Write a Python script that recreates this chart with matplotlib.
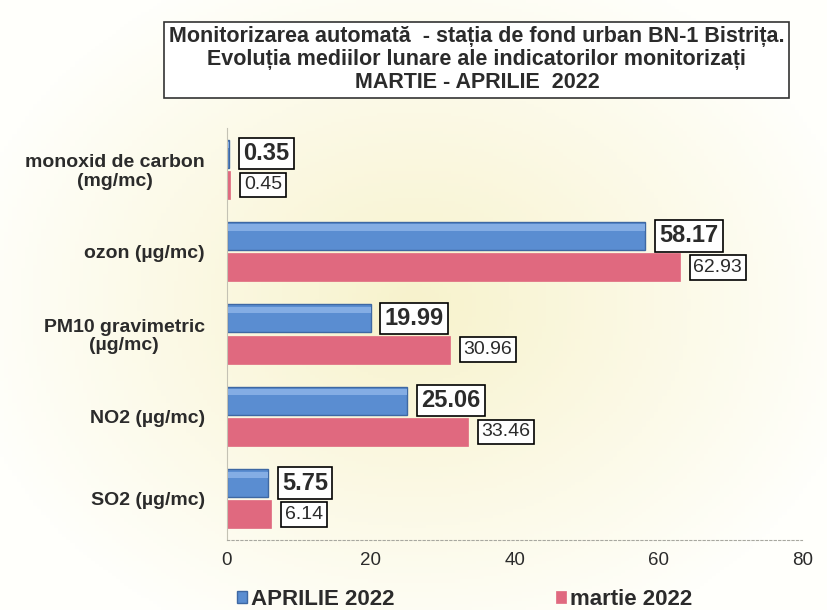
import matplotlib.pyplot as plt
import numpy as np

# Datos
categorii = ["monoxid de carbon\n(mg/mc)", "ozon (µg/mc)", "PM10 gravimetric\n(µg/mc)",
             "NO2 (µg/mc)", "SO2 (µg/mc)"]
aprilie_2022 = [0.35, 58.17, 19.99, 25.06, 5.75]
martie_2022 = [0.45, 62.93, 30.96, 33.46, 6.14]
x_ticks = [0, 20, 40, 60, 80]

titlu = ("Monitorizarea automată  - stația de fond urban BN-1 Bistrița.\n"
         "Evoluția mediilor lunare ale indicatorilor monitorizați\n"
         "MARTIE - APRILIE  2022")

plt.rcParams['font.family'] = ['Liberation Sans', 'DejaVu Sans']

fig = plt.figure(figsize=(8.28, 6.10), dpi=100, facecolor="white")

# fundal galben cu gradient (ca in scan)
bg = fig.add_axes([0, 0, 1, 1], zorder=-10)
gx, gy = np.meshgrid(np.linspace(0, 1, 200), np.linspace(0, 1, 200))
d = np.sqrt(((gx - 0.5) / 0.55) ** 2 + ((gy - 0.5) / 0.6) ** 2)
t = np.clip(d, 0, 1)[..., None]
c_in = np.array([0.97, 0.95, 0.80])
c_out = np.array([1.0, 1.0, 0.985])
bg.imshow(c_in * (1 - t) + c_out * t, extent=[0, 1, 0, 1], aspect="auto")
bg.axis("off")

ax = fig.add_axes([0.274, 0.115, 0.695, 0.675])
ax.set_facecolor("none")

y = np.arange(len(categorii))
h = 0.34
yc_apr = y - h / 2 - 0.02
yc_mar = y + h / 2 + 0.02
bare_apr = ax.barh(yc_apr, aprilie_2022, height=h, color="#5a8dd1",
                   edgecolor="#3e68a3", linewidth=1.0, label="APRILIE 2022")
# luciu in partea de sus a barelor albastre
ax.barh(yc_apr - h / 2 + h * 0.2, aprilie_2022, height=h * 0.22, color="#84ade4",
        linewidth=0, zorder=2.5)
bare_mar = ax.barh(yc_mar, martie_2022, height=h, color="#e0697f",
                   edgecolor="#e0697f", linewidth=0.5, label="martie 2022")

# Etichete valori
for yy, v in zip(yc_apr, aprilie_2022):
    ax.annotate(f"{v:.2f}", (v, yy), xytext=(10, 0), textcoords="offset points",
                ha="left", va="center", fontsize=17, fontweight="bold", color="#2b2b2b",
                zorder=5,
                bbox=dict(boxstyle="square,pad=0.18", fc="white", ec="black", lw=1.2))
for yy, v in zip(yc_mar, martie_2022):
    ax.annotate(f"{v:.2f}", (v, yy), xytext=(10, 0), textcoords="offset points",
                ha="left", va="center", fontsize=14, color="#2b2b2b", zorder=5,
                bbox=dict(boxstyle="square,pad=0.2", fc="white", ec="black", lw=1.2))

ax.set_yticks(y)
ax.set_yticklabels(categorii, fontsize=14, fontweight="bold", color="#2b2b2b",
                   multialignment="center", linespacing=1.1)
ax.set_ylim(len(categorii) - 0.5, -0.5)
ax.set_xlim(0, 80)
ax.set_xticks(x_ticks)
ax.tick_params(axis="x", labelsize=13.5, colors="#2b2b2b", length=0, pad=9)
ax.tick_params(axis="y", length=0, pad=16)

for s in ["top", "right"]:
    ax.spines[s].set_visible(False)
ax.spines["left"].set_color("#c4c2b4")
ax.spines["left"].set_linewidth(0.8)
ax.spines["bottom"].set_color("#a8a8a0")
ax.spines["bottom"].set_linestyle((0, (2, 2)))
ax.spines["bottom"].set_linewidth(0.8)

fig.text(0.576, 0.902, titlu, ha="center", va="center", fontsize=15.5, fontweight="bold",
         color="#2b2b2b", linespacing=1.12,
         bbox=dict(boxstyle="square,pad=0.22", fc="white", ec="#333333", lw=1.2))

fig.legend(handles=[bare_apr, bare_mar], loc="center", bbox_to_anchor=(0.561, 0.018),
           ncol=2, frameon=False, handlelength=0.45, handleheight=0.45, handletextpad=0.15,
           columnspacing=7.3, prop={"size": 16, "weight": "bold"}, labelcolor="#2b2b2b")

fig.savefig("out.png", dpi=100)
